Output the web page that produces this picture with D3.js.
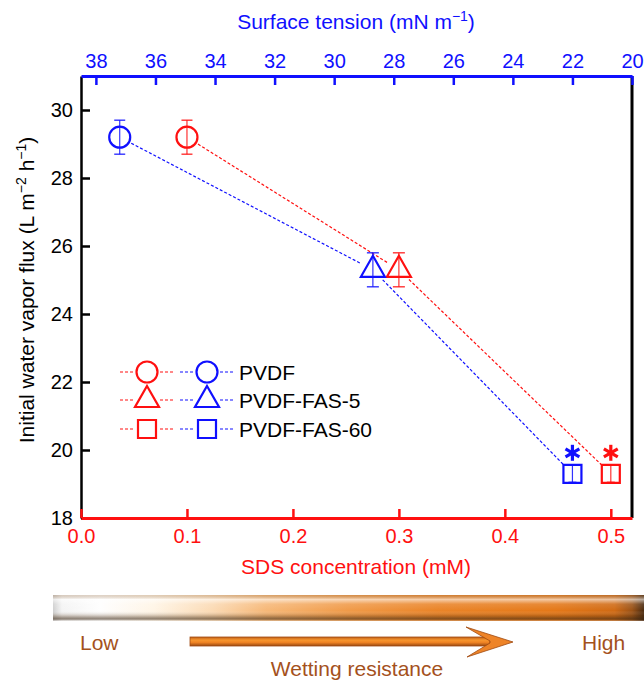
<!DOCTYPE html>
<html><head><meta charset="utf-8">
<script src="https://cdn.jsdelivr.net/npm/d3@7"></script>
<style>
html,body{margin:0;padding:0;background:#fff;}
svg{display:block;font-family:"Liberation Sans",Arial,Helvetica,sans-serif;}
</style></head>
<body>
<svg id="chart" width="644" height="680"></svg>
<script>
// ---------- data ----------
const sdsConc = [0.1, 0.3, 0.5];          // red series, bottom axis (mM)
const surfTension = [37.2, 28.7, 22.0];    // blue series, top axis (mN m-1)
const fluxRed = [29.2, 25.3, 19.3];
const fluxBlue = [29.2, 25.3, 19.3];
const errRed = [0.5, 0.5, 0.25];
const errBlue = [0.5, 0.5, 0.25];
const markerTypes = ["circle", "triangle", "square"];
const legendLabels = ["PVDF", "PVDF-FAS-5", "PVDF-FAS-60"];
const asteriskIdx = [2];
const bottomTicks = [0, 0.1, 0.2, 0.3, 0.4, 0.5];
const topTicks = [38, 36, 34, 32, 30, 28, 26, 24, 22, 20];
const yTicks = [18, 20, 22, 24, 26, 28, 30];

const RED = "#ff1010", BLUE = "#1010ff", BROWN = "#a4511c";
const svg = d3.select("#chart");
const L = 81, R = 632, T = 76, B = 518;

const x = d3.scaleLinear().domain([0, 0.52]).range([L, R]);
const xTop = d3.scaleLinear().domain([38.5, 20]).range([L, R]);
const y = d3.scaleLinear().domain([18, 31]).range([B, T]);

// ---------- axes ----------
const fs = 20;
const gL = svg.append("g").attr("transform", `translate(${L},0)`)
  .call(d3.axisLeft(y).tickValues(yTicks).tickFormat(d3.format("d")).tickSize(-9).tickSizeOuter(0).tickPadding(8));
gL.selectAll("text").attr("fill", "#000").style("font-size", fs + "px");
gL.selectAll("line").attr("stroke", "#000").attr("stroke-width", 2.5);
gL.select(".domain").attr("stroke", "#000").attr("stroke-width", 2.5);

svg.append("line").attr("x1", R).attr("x2", R).attr("y1", T).attr("y2", B)
  .attr("stroke", "#000").attr("stroke-width", 3);

const gT = svg.append("g").attr("transform", `translate(0,${T})`)
  .call(d3.axisTop(xTop).tickValues(topTicks).tickFormat(d3.format("d")).tickSize(-9).tickSizeOuter(0).tickPadding(8));
gT.selectAll("text").attr("fill", BLUE).style("font-size", fs + "px");
gT.selectAll("line").attr("stroke", BLUE).attr("stroke-width", 2.5);
gT.select(".domain").attr("stroke", BLUE).attr("stroke-width", 3);

const gB = svg.append("g").attr("transform", `translate(0,${B})`)
  .call(d3.axisBottom(x).tickValues(bottomTicks).tickFormat(d3.format(".1f")).tickSize(-9).tickSizeOuter(0).tickPadding(11));
gB.selectAll("text").attr("fill", RED).style("font-size", fs + "px");
gB.selectAll("line").attr("stroke", RED).attr("stroke-width", 2.5);
gB.select(".domain").attr("stroke", RED).attr("stroke-width", 3);

// axis titles
const tTop = svg.append("text").attr("x", 356).attr("y", 29).attr("text-anchor", "middle")
  .attr("fill", BLUE).style("font-size", "21px");
tTop.append("tspan").text("Surface tension (mN m");
tTop.append("tspan").attr("dy", -8).style("font-size", "14px").text("\u22121");
tTop.append("tspan").attr("dy", 8).text(")");

svg.append("text").attr("x", 356).attr("y", 574).attr("text-anchor", "middle")
  .attr("fill", RED).style("font-size", "21px").text("SDS concentration (mM)");

const tY = svg.append("text").attr("transform", "translate(34,290) rotate(-90)")
  .attr("text-anchor", "middle").attr("fill", "#000").style("font-size", "21px");
tY.append("tspan").text("Initial water vapor flux (L m");
tY.append("tspan").attr("dy", -8).style("font-size", "14px").text("\u22122");
tY.append("tspan").attr("dy", 8).text(" h");
tY.append("tspan").attr("dy", -8).style("font-size", "14px").text("\u22121");
tY.append("tspan").attr("dy", 8).text(")");

// ---------- marker helpers ----------
function markerPath(type, cx, cy) {
  if (type === "circle") {
    const r = 10.5;
    return `M${cx - r},${cy}a${r},${r} 0 1,0 ${2 * r},0a${r},${r} 0 1,0 ${-2 * r},0Z`;
  } else if (type === "triangle") {
    return `M${cx},${cy - 14}L${cx + 12},${cy + 7}L${cx - 12},${cy + 7}Z`;
  } else {
    const h = 9;
    return `M${cx - h},${cy - h}h${2 * h}v${2 * h}h${-2 * h}Z`;
  }
}
const gapR = { circle: 13, triangle: 14, square: 12 };

function drawSeries(xs, ys, errs, xsc, color) {
  const pts = xs.map((v, i) => ({ cx: xsc(v), cy: y(ys[i]), e: errs[i], t: markerTypes[i] }));
  const g = svg.append("g");
  for (let i = 0; i < pts.length - 1; i++) {
    const a = pts[i], b = pts[i + 1];
    const dx = b.cx - a.cx, dy = b.cy - a.cy, len = Math.hypot(dx, dy);
    const ux = dx / len, uy = dy / len;
    g.append("line")
      .attr("x1", a.cx + ux * gapR[a.t]).attr("y1", a.cy + uy * gapR[a.t])
      .attr("x2", b.cx - ux * gapR[b.t]).attr("y2", b.cy - uy * gapR[b.t])
      .attr("stroke", color).attr("stroke-width", 1.2).attr("stroke-dasharray", "3,2");
  }
  pts.forEach((p, i) => {
    const top = y(ys[i] + p.e), bot = y(ys[i] - p.e);
    const cw = p.t === "square" ? 8 : (p.t === "triangle" ? 12 : 11);
    g.append("line").attr("x1", p.cx).attr("x2", p.cx).attr("y1", top).attr("y2", bot)
      .attr("stroke", color).attr("stroke-width", 1.2).attr("opacity", 0.85);
    [top, bot].forEach(yy => g.append("line").attr("x1", p.cx - cw / 2).attr("x2", p.cx + cw / 2)
      .attr("y1", yy).attr("y2", yy).attr("stroke", color).attr("stroke-width", 1.4).attr("opacity", 0.85));
    g.append("path").attr("d", markerPath(p.t, p.cx, p.cy))
      .attr("fill", "none").attr("stroke", color).attr("stroke-width", 2.2);
  });
  asteriskIdx.forEach(i => {
    const p = pts[i];
    const ax = p.cx, ay = p.cy - 21, r = 8;
    [90, 30, 150].forEach(ang => {
      const rad = ang * Math.PI / 180;
      g.append("line").attr("x1", ax - r * Math.cos(rad)).attr("y1", ay - r * Math.sin(rad))
        .attr("x2", ax + r * Math.cos(rad)).attr("y2", ay + r * Math.sin(rad))
        .attr("stroke", color).attr("stroke-width", 3.2);
    });
  });
}
drawSeries(sdsConc, fluxRed, errRed, x, RED);
drawSeries(surfTension, fluxBlue, errBlue, xTop, BLUE);

// ---------- legend ----------
const legRows = [372, 400, 429];
const legRedX = 147, legBlueX = 207;
legendLabels.forEach((lab, i) => {
  const cy = legRows[i];
  [[legRedX, RED], [legBlueX, BLUE]].forEach(([cx, col]) => {
    [[cx - 27, cx - 14], [cx + 13, cx + 26]].forEach(([a, b]) =>
      svg.append("line").attr("x1", a).attr("x2", b).attr("y1", cy).attr("y2", cy)
        .attr("stroke", col).attr("stroke-width", 1.2).attr("stroke-dasharray", "3,2"));
    svg.append("path").attr("d", markerPath(markerTypes[i], cx, cy))
      .attr("fill", "none").attr("stroke", col).attr("stroke-width", 2.2);
  });
  svg.append("text").attr("x", 239).attr("y", cy + 8).attr("fill", "#000")
    .style("font-size", "21px").text(lab);
});

// ---------- wetting-resistance bar ----------
const defs = svg.append("defs");
const hg = defs.append("linearGradient").attr("id", "hbar").attr("x1", "0").attr("x2", "1").attr("y1", "0").attr("y2", "0");
[[0, "#cfcfcf"], [0.015, "#f4f4f4"], [0.08, "#fefefe"], [0.17, "#fff5e6"], [0.27, "#fbdab4"],
 [0.36, "#f6b878"], [0.5, "#f09a48"], [0.65, "#ea8428"], [0.85, "#e47818"], [0.95, "#d06a14"],
 [0.98, "#9a5216"], [1, "#4a2a10"]]
  .forEach(([o, c]) => hg.append("stop").attr("offset", o).attr("stop-color", c));
const vg = defs.append("linearGradient").attr("id", "vbar").attr("x1", "0").attr("x2", "0").attr("y1", "0").attr("y2", "1");
[[0, "rgba(150,110,70,0.3)"], [0.17, "rgba(255,255,255,0.6)"], [0.35, "rgba(255,255,255,0.12)"],
 [0.6, "rgba(255,255,255,0)"], [0.78, "rgba(80,50,20,0.22)"], [0.9, "rgba(60,40,20,0.55)"],
 [0.96, "rgba(60,40,20,0.4)"], [1, "rgba(255,255,255,0.3)"]]
  .forEach(([o, c]) => vg.append("stop").attr("offset", o).attr("stop-color", c));
svg.append("rect").attr("x", 53).attr("y", 595).attr("width", 591).attr("height", 26).attr("fill", "url(#hbar)");
svg.append("rect").attr("x", 53).attr("y", 595).attr("width", 591).attr("height", 26).attr("fill", "url(#vbar)");

svg.append("text").attr("x", 80).attr("y", 650).attr("fill", BROWN).style("font-size", "21px").text("Low");
svg.append("text").attr("x", 582).attr("y", 650).attr("fill", BROWN).style("font-size", "21px").text("High");
svg.append("text").attr("x", 357).attr("y", 676).attr("text-anchor", "middle").attr("fill", BROWN)
  .style("font-size", "21px").text("Wetting resistance");

const ag = defs.append("linearGradient").attr("id", "arr").attr("x1", "0").attr("x2", "0").attr("y1", "0").attr("y2", "1");
[[0, "#c06018"], [0.35, "#f7962e"], [0.6, "#f08424"], [1, "#9a4a12"]]
  .forEach(([o, c]) => ag.append("stop").attr("offset", o).attr("stop-color", c));
svg.append("rect").attr("x", 190).attr("y", 637).attr("width", 300).attr("height", 9)
  .attr("fill", "url(#arr)").attr("stroke", "#a04a12").attr("stroke-width", 0.8);
svg.append("path").attr("d", "M466,627L513,642L467,657L490,643L490,641Z")
  .attr("fill", "#ee8428").attr("stroke", "#a04a12").attr("stroke-width", 0.8);
</script>
</body></html>
